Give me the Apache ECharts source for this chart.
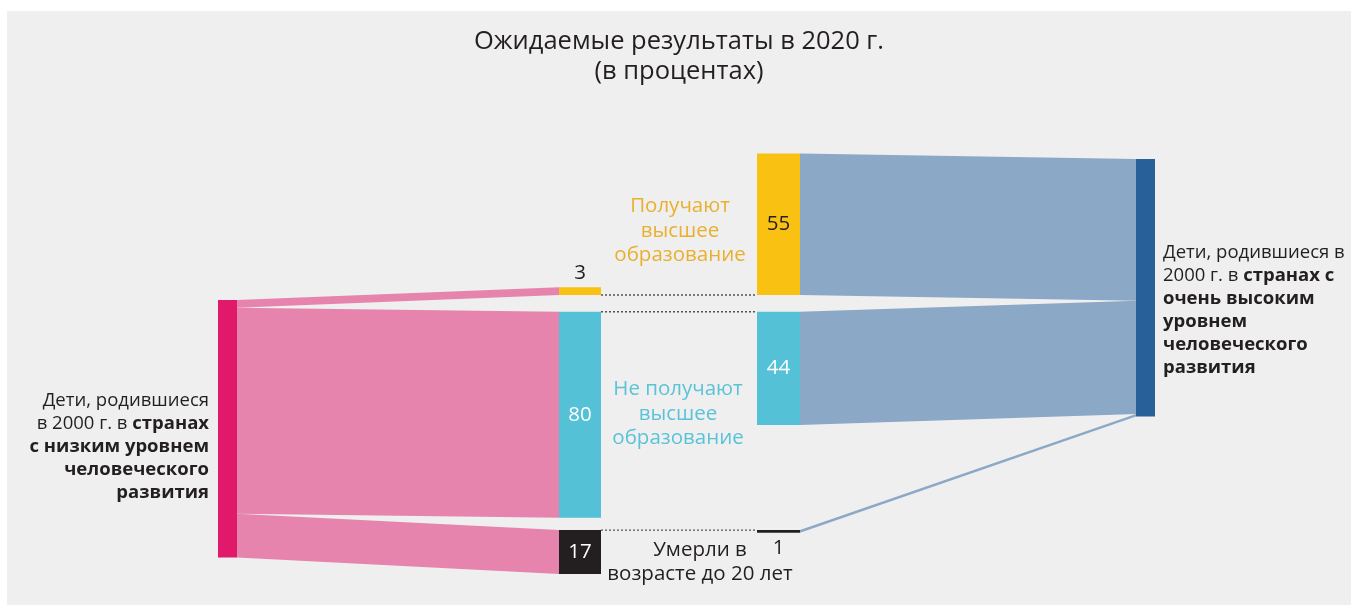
<!DOCTYPE html>
<html>
<head>
<meta charset="utf-8">
<script src="https://cdn.jsdelivr.net/npm/echarts@6/dist/echarts.min.js"></script>
<style>
  html, body { margin: 0; padding: 0; background: #fff; }
  #main { position: absolute; left: 7px; top: 11px; width: 1344px; height: 594px; }
</style>
</head>
<body>
<div id="main"></div>
<script>
// данные
var titleText = 'Ожидаемые результаты в 2020 г.\n(в процентах)';
var outcomeLabels = ['Получают\nвысшее\nобразование', 'Не получают\nвысшее\nобразование', 'Умерли в\nвозрасте до 20 лет'];
var lowHdiValues = [3, 80, 17];
var veryHighHdiValues = [55, 44, 1];
var lowHdiLabel = '{n|Дети, родившиеся}\n{n|в 2000 г. в }{b|странах}\n{b|с низким уровнем}\n{b|человеческого}\n{b|развития}';
var veryHighHdiLabel = '{n|Дети, родившиеся в}\n{n|2000 г. в }{b|странах с}\n{b|очень высоким}\n{b|уровнем}\n{b|человеческого}\n{b|развития}';

// цвета
var outcomeColors = ['#f9c212', '#55c1d6', '#231f20'];
var outcomeValueColors = ['#231f20', '#ffffff', '#ffffff'];
var outcomeLabelColors = ['#e9b030', '#5bc3d8', '#231f20'];
var lowColor = '#e0196b', lowLinkColor = '#e684ae';
var highColor = '#286199', highLinkColor = '#8ba8c7';
var FONT = '"Open Sans", "Noto Sans", sans-serif';

// раскладка (ось y в процентах)
var K = 2.575; // пикселей на 1 %
var col = { lowSrc: [218, 237], lowOut: [559, 601], highOut: [757, 800], highSrc: [1136, 1155] };
var rowEdge = [110.3, 116.8, 201.6];
var srcTop = { low: 112.2, high: 57.5 };

var nodes = [], links = [], texts = [];

function addSide(values, srcX, outX, top, srcColor, linkColor, srcOnLeft) {
  var total = values.reduce(function (a, b) { return a + b; }, 0);
  nodes.push({ x0: srcX[0], x1: srcX[1], y0: top, y1: top + total, color: srcColor });
  var cum = 0;
  values.forEach(function (v, i) {
    var y0 = i === 0 ? rowEdge[0] - v : rowEdge[i];
    var pos = v < 5 ? (i === 0 ? 'top' : 'bottom') : 'inside';
    nodes.push({ x0: outX[0], x1: outX[1], y0: y0, y1: y0 + v, color: outcomeColors[i],
      value: v, pos: pos, textColor: pos === 'inside' ? outcomeValueColors[i] : '#231f20' });
    var s0 = top + cum, s1 = top + cum + v;
    cum += v;
    if (srcOnLeft) links.push({ xa: srcX[1], a0: s0, a1: s1, xb: outX[0], b0: y0, b1: y0 + v, color: linkColor });
    else links.push({ xa: outX[1], a0: y0, a1: y0 + v, xb: srcX[0], b0: s0, b1: s1, color: linkColor });
  });
}
addSide(lowHdiValues, col.lowSrc, col.lowOut, srcTop.low, lowColor, lowLinkColor, true);
addSide(veryHighHdiValues, col.highSrc, col.highOut, srcTop.high, highColor, highLinkColor, false);

// подписи
texts.push({ x: 209, y: 169.3, text: lowHdiLabel, align: 'right', rich: true });
texts.push({ x: 1163, y: 116.1, text: veryHighHdiLabel, align: 'left', rich: true });
var outcomeLabelPos = [[680, 85.4], [678, 156.5], [700, 214.0]];
outcomeLabels.forEach(function (t, i) {
  texts.push({ x: outcomeLabelPos[i][0], y: outcomeLabelPos[i][1], text: t, align: 'center', color: outcomeLabelColors[i] });
});

var richStyles = {
  n: { fontSize: 18.5, fontFamily: FONT, fontWeight: 'normal', lineHeight: 23, fill: '#231f20', color: '#231f20' },
  b: { fontSize: 18.5, fontFamily: FONT, fontWeight: 'bold', lineHeight: 23, fill: '#231f20', color: '#231f20' }
};

var chart = echarts.init(document.getElementById('main'));
chart.setOption({
  backgroundColor: '#efefef',
  animation: false,
  title: {
    text: titleText,
    left: 'center',
    top: 16,
    padding: 0,
    textStyle: { fontFamily: FONT, fontSize: 25.5, fontWeight: 'normal', color: '#231f20', lineHeight: 30 }
  },
  grid: { left: 0, right: 0, top: 0, bottom: 0 },
  xAxis: { type: 'value', min: 7, max: 1351, show: false },
  yAxis: { type: 'value', min: 0, max: 594 / K, inverse: true, show: false },
  series: [
    {
      type: 'custom', coordinateSystem: 'cartesian2d', silent: true, clip: false,
      data: links.map(function (l) { return [l.xa, l.a0, l.a1, l.xb, l.b0, l.b1]; }),
      renderItem: function (params, api) {
        var l = links[params.dataIndex];
        var pts = [
          api.coord([api.value(0), api.value(1)]),
          api.coord([api.value(3), api.value(4)]),
          api.coord([api.value(3), api.value(5)]),
          api.coord([api.value(0), api.value(2)])
        ];
        return { type: 'polygon', shape: { points: pts }, style: { fill: l.color } };
      }
    },
    {
      // пунктирные линии между столбцами
      type: 'custom', coordinateSystem: 'cartesian2d', silent: true, clip: false,
      data: rowEdge.map(function (y) { return [col.lowOut[1], col.highOut[0], y]; }),
      renderItem: function (params, api) {
        var a = api.coord([api.value(0), api.value(2)]);
        var b = api.coord([api.value(1), api.value(2)]);
        return { type: 'line', shape: { x1: a[0], y1: a[1], x2: b[0], y2: b[1] },
          style: { stroke: '#555', lineWidth: 1.3, lineDash: [2, 2] } };
      }
    },
    {
      type: 'custom', coordinateSystem: 'cartesian2d', silent: true, clip: false,
      data: nodes.map(function (n) { return [n.x0, n.x1, n.y0, n.y1]; }),
      renderItem: function (params, api) {
        var n = nodes[params.dataIndex];
        var p0 = api.coord([api.value(0), api.value(2)]);
        var p1 = api.coord([api.value(1), api.value(3)]);
        var children = [{ type: 'rect', shape: { x: p0[0], y: p0[1], width: p1[0] - p0[0], height: p1[1] - p0[1] },
          style: { fill: n.color } }];
        if (n.value != null) {
          var cx = (p0[0] + p1[0]) / 2;
          var cy = n.pos === 'top' ? p0[1] - 14 : n.pos === 'bottom' ? p1[1] + 15 : (p0[1] + p1[1]) / 2;
          children.push({ type: 'text', x: cx, y: cy,
            style: { text: String(n.value), fill: n.textColor, fontSize: 20.5, fontFamily: FONT,
              align: 'center', verticalAlign: 'middle' } });
        }
        return { type: 'group', children: children };
      }
    },
    {
      type: 'custom', coordinateSystem: 'cartesian2d', silent: true, clip: false,
      data: texts.map(function (t) { return [t.x, t.y]; }),
      renderItem: function (params, api) {
        var t = texts[params.dataIndex];
        var p = api.coord([api.value(0), api.value(1)]);
        var style = { text: t.text, align: t.align, verticalAlign: 'middle', fontFamily: FONT };
        if (t.rich) {
          style.rich = richStyles;
          style.fontSize = 18.5;
          style.lineHeight = 23;
          style.fill = '#231f20';
        } else {
          style.fontSize = 20.5;
          style.lineHeight = 24.5;
          style.fill = t.color;
        }
        return { type: 'text', x: p[0], y: p[1], style: style };
      }
    }
  ]
});
</script>
</body>
</html>
